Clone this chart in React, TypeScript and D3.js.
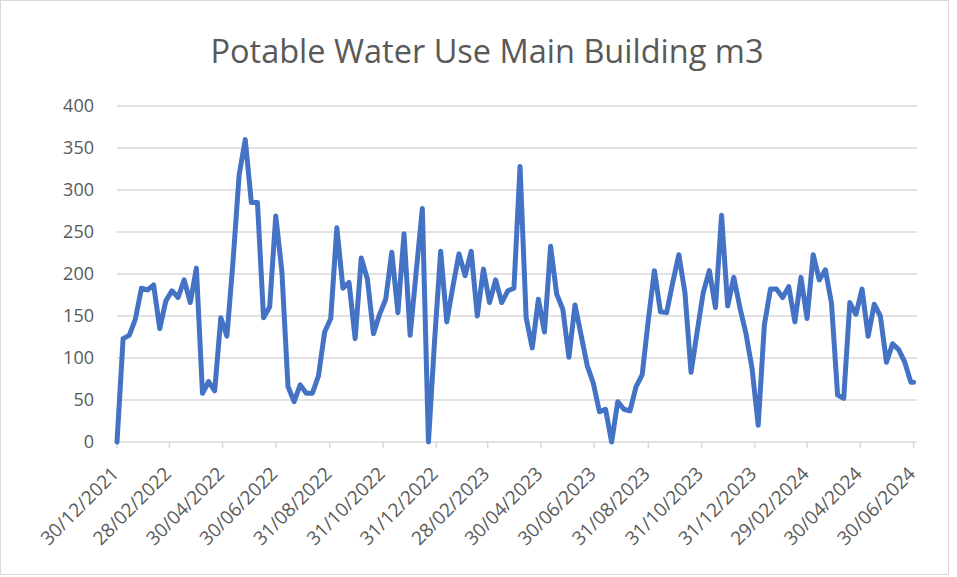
import React from "react";
import * as d3 from "d3";

const TITLE = "Potable Water Use Main Building m3";
const START_DATE = "2021-12-30";
const END_DATE = "2024-06-30";
const WEEK_DAYS = 7;
// weekly readings from 30/12/2021, plus a final reading on 30/06/2024
const waterUse: number[] = [
  0, 123, 127, 146, 183, 181, 187, 135, 168, 180, 172, 193, 166, 207, 58, 72, 61, 148, 126, 215,
  318, 360, 285, 285, 148, 161, 269, 203, 66, 48, 68, 58, 58, 79, 131, 147, 255, 183, 190, 123,
  219, 194, 129, 152, 170, 226, 154, 248, 127, 203, 278, 0, 120, 227, 143, 185, 224, 198, 227, 150,
  206, 166, 193, 166, 180, 183, 328, 148, 112, 170, 131, 233, 176, 158, 101, 163, 127, 91, 70, 36,
  39, 0, 48, 39, 37, 66, 80, 145, 204, 155, 154, 190, 223, 178, 83, 131, 178, 204, 160, 270,
  162, 196, 160, 129, 87, 20, 139, 182, 182, 172, 185, 143, 196, 147, 223, 193, 205, 165, 56, 52,
  166, 152, 182, 126, 164, 150, 95, 117, 110, 95, 71,
];
const finalValue = 71;
const xTickLabels = [
  "30/12/2021", "28/02/2022", "30/04/2022", "30/06/2022", "31/08/2022", "31/10/2022",
  "31/12/2022", "28/02/2023", "30/04/2023", "30/06/2023", "31/08/2023", "31/10/2023",
  "31/12/2023", "29/02/2024", "30/04/2024", "30/06/2024",
];
const yTicks = [0, 50, 100, 150, 200, 250, 300, 350, 400];

const parseIso = d3.timeParse("%Y-%m-%d");
const parseDmy = d3.timeParse("%d/%m/%Y");

export default function App() {
  const W = 957, H = 577;
  const start = parseIso(START_DATE)!;
  const end = parseIso(END_DATE)!;
  const pts = waterUse.map((v, i) => ({ d: d3.timeDay.offset(start, i * WEEK_DAYS), v }));
  pts.push({ d: end, v: finalValue });

  const x = d3.scaleTime().domain([start, end]).range([117, 913.5]);
  const y = d3.scaleLinear().domain([0, 400]).range([442, 106]);
  const gridRight = 917;

  const line = d3
    .line<{ d: Date; v: number }>()
    .x((p) => x(p.d))
    .y((p) => y(p.v));

  const font = "'Open Sans', 'Noto Sans', sans-serif";
  const txt = "#595959";
  const grid = "#d9d9d9";

  return (
    <svg
      width={W}
      height={H}
      style={{ position: "absolute", left: 0, top: 0, background: "#fff" }}
      fontFamily={font}
    >
      <rect x={0.5} y={0.5} width={948} height={574} fill="#fff" stroke={grid} />
      <text x={487} y={63} textAnchor="middle" fontSize={32.5} fill={txt}>
        {TITLE}
      </text>
      {yTicks.map((t) => (
        <g key={t}>
          <line x1={x.range()[0]} x2={gridRight} y1={y(t)} y2={y(t)} stroke={grid} strokeWidth={1.5} />
          <text x={94} y={y(t)} dy="0.35em" textAnchor="end" fontSize={18} fill={txt}>
            {t}
          </text>
        </g>
      ))}
      {xTickLabels.map((lab) => {
        const tx = x(parseDmy(lab)!);
        return (
          <g key={lab}>
            <line x1={tx} x2={tx} y1={y(0)} y2={y(0) + 6} stroke={grid} strokeWidth={1.5} />
            <text
              transform={`translate(${tx + 3},${y(0) + 33}) rotate(-45)`}
              textAnchor="end"
              fontSize={19}
              fill={txt}
            >
              {lab}
            </text>
          </g>
        );
      })}
      <path
        d={line(pts) || ""}
        fill="none"
        stroke="#4472c4"
        strokeWidth={5}
        strokeLinejoin="round"
        strokeLinecap="round"
      />
    </svg>
  );
}
